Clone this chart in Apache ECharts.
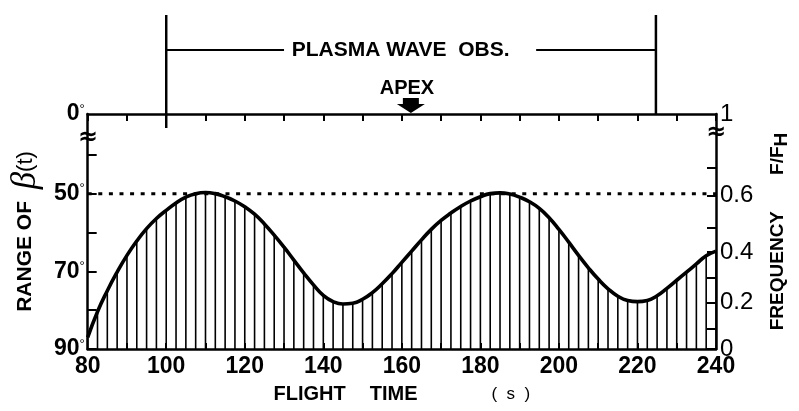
<!DOCTYPE html>
<html>
<head>
<meta charset="utf-8">
<script src="https://cdn.jsdelivr.net/npm/echarts@6/dist/echarts.min.js"></script>
<style>
html,body{margin:0;padding:0;background:#fff;}
#chart{width:799px;height:411px;}
</style>
</head>
<body>
<div id="chart"></div>
<script>
// ---- data ----
const flightTime = [80,82.5,85,87.5,90,92.5,95,97.5,100,102.5,105,107.5,110,112.5,115,117.5,120,122.5,125,127.5,130,132.5,135,137.5,140,142.5,145,147.5,150,152.5,155,157.5,160,162.5,165,167.5,170,172.5,175,177.5,180,182.5,185,187.5,190,192.5,195,197.5,200,202.5,205,207.5,210,212.5,215,217.5,220,222.5,225,227.5,230,232.5,235,237.5,240];
const betaRange = [87,80.4,75.0,70.2,65.9,62.2,59.0,56.4,54.3,52.4,50.9,50.0,49.7,50.0,50.8,51.9,53.4,55.3,57.8,60.7,63.8,67.1,70.4,73.5,76.2,77.8,78.4,78.2,77.2,75.5,73.2,70.6,67.7,64.8,61.9,59.2,56.9,55.0,53.3,51.9,50.8,50.0,49.8,50.1,50.9,52.1,53.8,56.2,59.2,62.5,65.9,69.1,72.0,74.5,76.4,77.5,77.8,77.5,76.3,74.4,72.3,70.2,68.1,66.0,64.8];
const refLevel = 50;               // dotted line (deg)
const xTickLabels = [80,100,120,140,160,180,200,220,240];
const leftTickValues = [40,50,60,70,80,90];
const leftLabelValues = [29.5,50,70,90];
const leftLabelText = ['0','50','70','90'];
const rightFreqLabels = ['0','0.1','0.2','0.3','0.4','0.5','0.6','0.7','1'];
const rightFreqPosDeg = [90,84.8,78.1,71.7,65.0,58.8,50.5,43.3,29.5];
const rightLabelShown = ['0','0.2','0.4','0.6','1'];
const obsStart = 100, obsEnd = 224.7, apexTime = 162.3;

const Y_MIN = 29.5, Y_MAX = 90;
const FONT = '"Liberation Sans", Arial, sans-serif';

const curveData = flightTime.map((t, i) => [t, betaRange[i]]);

const chart = echarts.init(document.getElementById('chart'), null, {renderer: 'canvas'});

const option = {
  animation: false,
  backgroundColor: '#fff',
  grid: {left: 81, right: 75, top: 114, bottom: 62},
  xAxis: [{
    type: 'value', min: 80, max: 240, interval: 20, position: 'bottom',
    axisLine: {lineStyle: {color: '#000', width: 2.5}},
    axisTick: {inside: true, length: 6, lineStyle: {color: '#000', width: 2}, customValues: [90,100,110,120,130,140,150,160,170,180,190,200,210,220,230]},
    axisLabel: {color: '#000', fontFamily: FONT, fontWeight: 'bold', fontSize: 23, margin: 6,
      customValues: xTickLabels},
    splitLine: {show: false},
    name: '{a|FLIGHT}{g|}{a|TIME}{g2|}{b|(  s  )}',
    nameLocation: 'middle', nameGap: 35,
    nameTextStyle: {
      rich: {
        a: {fontFamily: FONT, fontWeight: 'bold', fontSize: 20, color: '#000'},
        g: {width: 24},
        g2: {width: 74},
        b: {fontFamily: FONT, fontSize: 17, color: '#000'}
      }
    }
  }, {
    type: 'value', min: 80, max: 240, interval: 10, position: 'top',
    axisLine: {lineStyle: {color: '#000', width: 2.5}},
    axisTick: {inside: true, length: 7, lineStyle: {color: '#000', width: 2}},
    axisLabel: {show: false},
    splitLine: {show: false}
  }],
  yAxis: [{
    type: 'value', min: Y_MIN, max: Y_MAX, inverse: true, position: 'left',
    axisLine: {lineStyle: {color: '#000', width: 2.5}},
    axisTick: {inside: true, length: 9, lineStyle: {color: '#000', width: 2}, customValues: leftTickValues},
    axisLabel: {
      customValues: leftLabelValues, margin: 3,
      formatter: function (v) {
        const i = leftLabelValues.indexOf(v);
        return i < 0 ? '' : '{n|' + leftLabelText[i] + '}{d|°}';
      },
      rich: {
        n: {fontFamily: FONT, fontWeight: 'bold', fontSize: 23, color: '#000'},
        d: {fontFamily: FONT, fontSize: 13, color: '#000', verticalAlign: 'top', padding: [0, 0, 10, 0]}
      }
    },
    splitLine: {show: false},
    name: '{a|RANGE OF  }{b|β}{c|(t)}',
    nameLocation: 'middle', nameRotate: 90, nameGap: 44,
    nameTextStyle: {
      rich: {
        a: {fontFamily: FONT, fontWeight: 'bold', fontSize: 21, color: '#000'},
        b: {fontFamily: '"Liberation Serif", serif', fontStyle: 'italic', fontSize: 35, color: '#000'},
        c: {fontFamily: FONT, fontSize: 22, color: '#000'}
      }
    }
  }, {
    type: 'value', min: Y_MIN, max: Y_MAX, inverse: true, position: 'right',
    axisLine: {lineStyle: {color: '#000', width: 2.5}},
    axisTick: {inside: true, length: 9, lineStyle: {color: '#000', width: 2}, customValues: rightFreqPosDeg.slice(0, 8)},
    axisLabel: {
      customValues: rightFreqPosDeg, margin: 4,
      color: '#000', fontFamily: FONT, fontSize: 24,
      formatter: function (v) {
        const i = rightFreqPosDeg.indexOf(v);
        if (i < 0) return '';
        const s = rightFreqLabels[i];
        return rightLabelShown.indexOf(s) >= 0 ? s : '';
      }
    },
    splitLine: {show: false},
    name: '{a|FREQUENCY}{g|}{a|F/F}{s|H}',
    nameLocation: 'middle', nameRotate: 90, nameGap: 48,
    nameTextStyle: {
      rich: {
        a: {fontFamily: FONT, fontWeight: 'bold', fontSize: 19, color: '#000'},
        g: {width: 36},
        s: {fontFamily: FONT, fontWeight: 'bold', fontSize: 19, color: '#000', verticalAlign: 'bottom', padding: [8, 0, 0, 0]}
      }
    }
  }],
  series: [
    {
      // vertical hatching under the curve
      type: 'custom', name: 'hatch', xAxisIndex: 0, yAxisIndex: 0,
      data: curveData,
      encode: {x: 0, y: 1},
      renderItem: function (params, api) {
        const t = api.value(0), v = api.value(1);
        const p0 = api.coord([t, Y_MAX]);
        const p1 = api.coord([t, v]);
        return {type: 'line', shape: {x1: p0[0], y1: p0[1], x2: p1[0], y2: p1[1]},
          style: {stroke: '#000', lineWidth: 1.6}};
      }
    },
    {
      type: 'line', name: 'beta', data: curveData, smooth: 0.5, showSymbol: false,
      lineStyle: {color: '#000', width: 3.6}, z: 3
    },
    {
      type: 'line', name: 'ref', data: [[80, refLevel], [240, refLevel]], showSymbol: false,
      lineStyle: {color: '#000', width: 3, type: [4, 6.6]}, z: 3
    },
    {
      // annotations: observation bracket, apex arrow, axis break marks
      type: 'custom', name: 'annot', clip: false, silent: true, z: 5,
      data: [[0]],
      renderItem: function (params, api) {
        const top = api.coord([80, Y_MIN])[1];
        const xs = api.coord([obsStart, Y_MIN])[0];
        const xe = api.coord([obsEnd, Y_MIN])[0];
        const xl1 = api.coord([130, Y_MIN])[0];
        const xr1 = api.coord([194.2, Y_MIN])[0];
        const xt = api.coord([159.7, Y_MIN])[0];
        const xapexT = api.coord([161.3, Y_MIN])[0];
        const xa = api.coord([apexTime, Y_MIN])[0];
        const left = api.coord([80, 35.5]);
        const right = api.coord([240, 34.3]);
        const yb = top - 64;
        const ln = (x1, y1, x2, y2, w) => ({type: 'line', shape: {x1, y1, x2, y2}, style: {stroke: '#000', lineWidth: w}});
        return {
          type: 'group',
          children: [
            ln(xs, top - 99, xs, top + 14, 2.5),
            ln(xe, top - 99, xe, top, 2.5),
            ln(xs, yb, xl1, yb, 2.2),
            ln(xr1, yb, xe, yb, 2.2),
            {type: 'text', style: {text: 'PLASMA WAVE  OBS.', x: xt, y: yb, align: 'center', verticalAlign: 'middle',
              font: 'bold 21px ' + FONT, fill: '#000'}},
            {type: 'text', style: {text: 'APEX', x: xapexT, y: top - 26, align: 'center', verticalAlign: 'middle',
              font: 'bold 20px ' + FONT, fill: '#000'}},
            {type: 'polygon', shape: {points: [
              [xa - 8, top - 16], [xa + 8, top - 16], [xa + 8, top - 10], [xa + 14, top - 10],
              [xa, top - 1], [xa - 14, top - 10], [xa - 8, top - 10]]}, style: {fill: '#000'}},
            {type: 'text', style: {text: '≈', x: left[0], y: left[1], align: 'center', verticalAlign: 'middle',
              font: 'bold 24px "DejaVu Sans", sans-serif', fill: '#000'}},
            {type: 'text', style: {text: '≈', x: right[0], y: right[1], align: 'center', verticalAlign: 'middle',
              font: 'bold 24px "DejaVu Sans", sans-serif', fill: '#000'}}
          ]
        };
      }
    }
  ]
};
chart.setOption(option);
</script>
</body>
</html>
